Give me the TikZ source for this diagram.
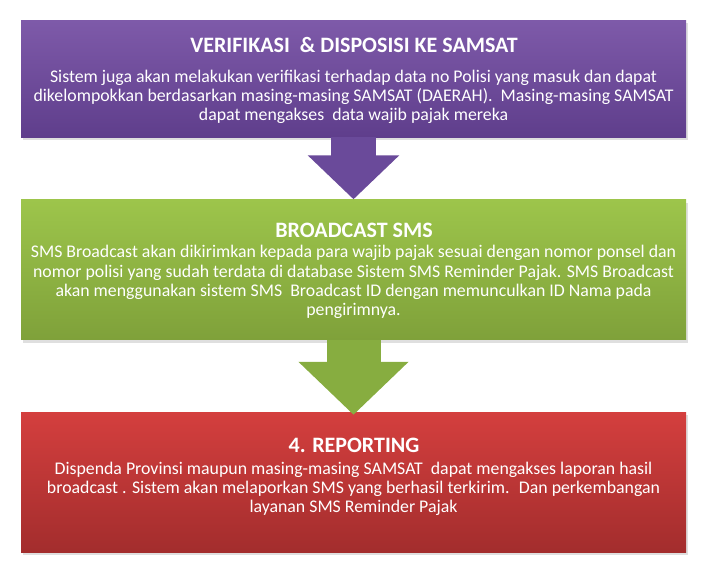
\documentclass[tikz,border=0pt]{standalone}
\usepackage{fontspec}
\setmainfont{Carlito}
\usetikzlibrary{arrows.meta,shadows}

\definecolor{unguatas}{HTML}{7E5AA9}
\definecolor{ungubawah}{HTML}{5F3E8C}
\definecolor{ungupanah}{HTML}{6A4A9A}
\definecolor{hijauatas}{HTML}{9DC54B}
\definecolor{hijaubawah}{HTML}{7FA13A}
\definecolor{hijaupanah}{HTML}{87AD40}
\definecolor{merahatas}{HTML}{D43F3E}
\definecolor{merahbawah}{HTML}{A32D2D}

\begin{document}
\begin{tikzpicture}[x=1pt, y=-1pt,
  kotak/.style={rectangle, minimum width=665pt, inner sep=0pt,
    drop shadow={shadow xshift=2pt, shadow yshift=-3pt, opacity=0.25}},
  judul/.style={text=white, inner sep=0pt, anchor=base, font=\fontsize{22}{26}\selectfont\bfseries},
  isi/.style={text=white, align=center, inner sep=0pt, font=\fontsize{17.8}{19.2}\selectfont}]

\useasboundingbox (0,0) rectangle (706,576);

%% VERIFIKASI
\node[kotak, minimum height=117pt, top color=unguatas, bottom color=ungubawah] (verif) at (353.5,78.5) {};
\node[judul] (tverif) at (354,52) {VERIFIKASI~ \& DISPOSISI KE SAMSAT};
\node[isi] (iverif) at (353.5,97)
{Sistem juga akan melakukan verifikasi terhadap data no Polisi yang masuk dan dapat\\
dikelompokkan berdasarkan masing-masing SAMSAT (DAERAH).~ Masing-masing SAMSAT\\
dapat mengakses~ data wajib pajak mereka};

%% BROADCAST
\node[kotak, minimum height=140pt, top color=hijauatas, bottom color=hijaubawah] (bcast) at (353.5,269.5) {};
\node[judul] (tbcast) at (354,237) {BROADCAST SMS};
\node[isi] (ibcast) at (353.5,282)
{SMS Broadcast akan dikirimkan kepada para wajib pajak sesuai dengan nomor ponsel dan\\
nomor polisi yang sudah terdata di database Sistem SMS Reminder Pajak. SMS Broadcast\\
akan menggunakan sistem SMS~ Broadcast ID dengan memunculkan ID Nama pada\\
pengirimnya.};

%% REPORTING
\node[kotak, minimum height=140pt, top color=merahatas, bottom color=merahbawah] (report) at (353.5,482) {};
\node[judul] (treport) at (354,452) {4. REPORTING};
\node[isi] (ireport) at (353.5,489)
{Dispenda Provinsi maupun masing-masing SAMSAT~ dapat mengakses laporan hasil\\
broadcast . Sistem akan melaporkan SMS yang berhasil terkirim.~ Dan perkembangan\\
layanan SMS Reminder Pajak};

% Panah
\draw[ungupanah, line width=45pt, -{Triangle[width=89pt, length=44pt]}] (verif.south) -- (bcast.north);
\draw[hijaupanah, line width=54pt, shorten >=-3pt, -{Triangle[width=107pt, length=53pt]}] (bcast.south) -- (report.north);

\end{tikzpicture}
\end{document}
